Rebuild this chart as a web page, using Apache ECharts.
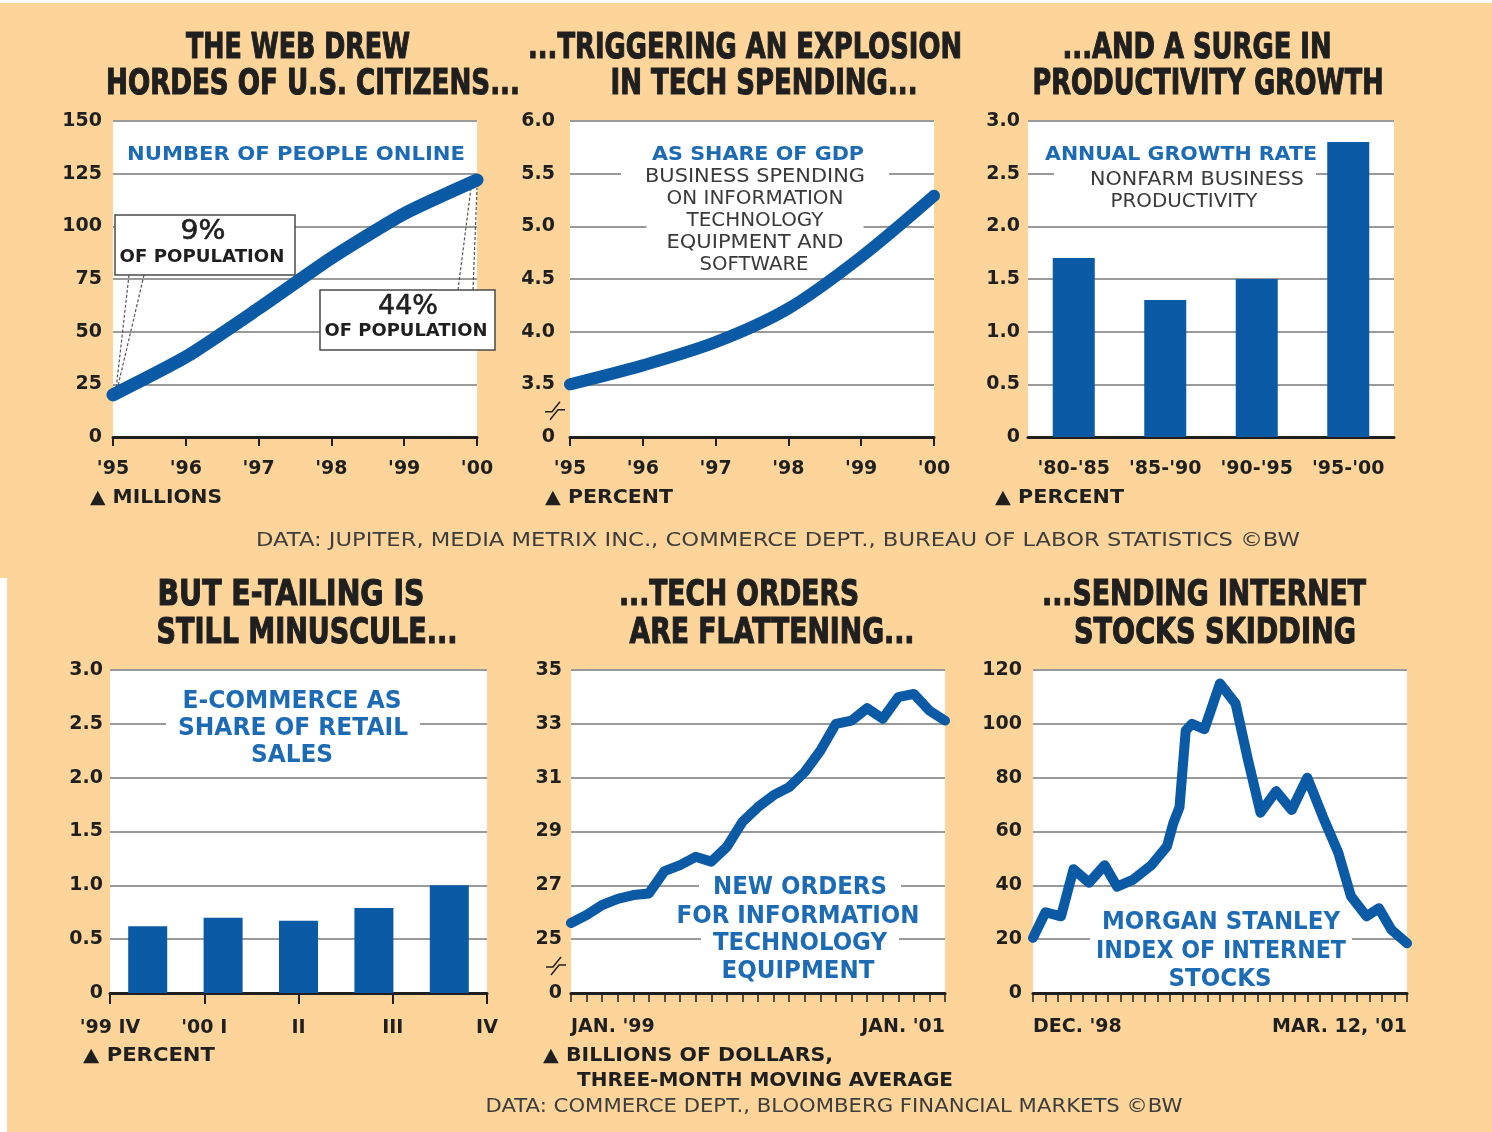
<!DOCTYPE html>
<html>
<head>
<meta charset="utf-8">
<script src="https://cdn.jsdelivr.net/npm/echarts@6/dist/echarts.min.js"></script>
<style>
  html, body { margin: 0; padding: 0; background: #fff; }
  #c { width: 1492px; height: 1132px; }
</style>
</head>
<body>
<div id="c"></div>
<script>
// ---- data ----
const yearCats = ["'95", "'96", "'97", "'98", "'99", "'00"];
const peopleOnline = [20, 38, 61, 85, 106, 122];          // millions
const itShareGdp = [3.5, 3.68, 3.9, 4.22, 4.71, 5.29];    // percent of GDP

const prodPeriods = ["'80-'85", "'85-'90", "'90-'95", "'95-'00"];
const prodGrowth = [1.7, 1.3, 1.5, 2.8];                  // percent a year

const ecomQuarters = ["'99 IV", "'00 I", "II", "III", "IV"];
const ecomShare = [0.62, 0.70, 0.67, 0.79, 1.0];          // percent of retail sales

const orderMonths = ["JAN. '99", "FEB. '99", "MAR. '99", "APR. '99", "MAY '99", "JUNE '99",
  "JULY '99", "AUG. '99", "SEPT. '99", "OCT. '99", "NOV. '99", "DEC. '99",
  "JAN. '00", "FEB. '00", "MAR. '00", "APR. '00", "MAY '00", "JUNE '00",
  "JULY '00", "AUG. '00", "SEPT. '00", "OCT. '00", "NOV. '00", "DEC. '00", "JAN. '01"];
const itOrders = [25.6, 25.9, 26.27, 26.5, 26.64, 26.7, 27.53, 27.75, 28.06, 27.88, 28.43, 29.36,
  29.91, 30.35, 30.65, 31.21, 32.0, 33.0, 33.12, 33.58, 33.19, 33.99, 34.11, 33.49, 33.12];

// weeks since Dec. 1998 and Morgan Stanley internet index level
const stockWeeks = [0, 4, 9, 13, 18, 23, 27, 32, 38, 43, 45, 47, 49, 51, 55, 60, 65, 69, 73,
  78, 83, 88, 93, 98, 102, 107, 111, 115, 120];
const stockIndex = [20.5, 30, 28.5, 46, 41, 47.5, 39.5, 42, 47.5, 54.5, 63, 69, 97.5, 100, 98,
  115, 107.5, 86.5, 67, 75, 68, 80, 65.5, 52, 36, 28.5, 31.5, 23.5, 18.5];
const stockAxisEnds = ["DEC. '98", "MAR. 12, '01"];

// ---- styling ----
const F = "'DejaVu Sans', 'Liberation Sans', sans-serif";
const PEACH = '#FDD59A';
const LINE_BLUE = '#0B5AA6';
const TEXT_BLUE = '#1C6BB4';
const INK = '#1f1f1f';
const GRAY_TEXT = '#3a3a3a';
const GRID_GRAY = '#9a9a9a';

function gridBox(l, t, w, h) {
  return { left: l, top: t, width: w, height: h, show: true, backgroundColor: '#fff',
    borderWidth: 0, containLabel: false, outerBoundsMode: 'none' };
}
function yAx(gi, min, max, interval, fmt, margin, splitColor) {
  return {
    type: 'value', gridIndex: gi, min: min, max: max, interval: interval,
    axisLine: { show: false }, axisTick: { show: false },
    axisLabel: { color: INK, fontFamily: F, fontWeight: 'bold', fontSize: 19, margin: margin, formatter: fmt },
    splitLine: { show: true, lineStyle: { color: splitColor || GRID_GRAY, width: 2 } }
  };
}
const axisLineStyle = { show: true, lineStyle: { color: INK, width: 3 } };
const xLabel = { color: INK, fontFamily: F, fontWeight: 'bold', fontSize: 19 };

const chart = echarts.init(document.getElementById('c'), null, { renderer: 'canvas' });

const option = {
  backgroundColor: PEACH,
  animation: false,
  grid: [
    gridBox(113, 121, 364, 316),
    gridBox(570, 121, 364, 316),
    gridBox(1028, 121, 366, 316),
    gridBox(110, 670, 377, 323),
    gridBox(571, 670, 374, 323),
    gridBox(1033, 670, 374, 323)
  ],
  xAxis: [
    { type: 'category', gridIndex: 0, data: yearCats, boundaryGap: false, axisLine: axisLineStyle, z: 3,
      axisTick: { show: true, interval: 0, length: 9, lineStyle: { color: INK, width: 2 } },
      axisLabel: Object.assign({ margin: 23, interval: 0 }, xLabel), splitLine: { show: false } },
    { type: 'category', gridIndex: 1, data: yearCats, boundaryGap: false, axisLine: axisLineStyle, z: 3,
      axisTick: { show: true, interval: 0, length: 9, lineStyle: { color: INK, width: 2 } },
      axisLabel: Object.assign({ margin: 23, interval: 0 }, xLabel), splitLine: { show: false } },
    { type: 'category', gridIndex: 2, data: prodPeriods, boundaryGap: true, axisLine: axisLineStyle, z: 3,
      axisTick: { show: false },
      axisLabel: Object.assign({ margin: 23, interval: 0 }, xLabel), splitLine: { show: false } },
    // bars sit in the category slots
    { type: 'category', gridIndex: 3, data: ecomQuarters, boundaryGap: true, axisLine: axisLineStyle, z: 3,
      axisTick: { show: false }, axisLabel: { show: false }, splitLine: { show: false } },
    // quarter labels sit on the tick marks
    { type: 'category', gridIndex: 3, data: ecomQuarters, boundaryGap: false, position: 'bottom', z: 3,
      axisLine: { show: false },
      axisTick: { show: true, interval: 0, length: 11, lineStyle: { color: INK, width: 2 } },
      axisLabel: Object.assign({ margin: 26, interval: 0 }, xLabel), splitLine: { show: false } },
    { type: 'category', gridIndex: 4, data: orderMonths, boundaryGap: false, axisLine: axisLineStyle, z: 3,
      axisTick: { show: true, interval: 0, length: 9, lineStyle: { color: INK, width: 1.5 } },
      axisLabel: Object.assign({
        margin: 25,
        interval: function (i) { return i === 0 || i === orderMonths.length - 1; },
        alignMinLabel: 'left', alignMaxLabel: 'right'
      }, xLabel),
      splitLine: { show: false } },
    { type: 'value', gridIndex: 5, min: 0, max: 120, interval: 4, axisLine: axisLineStyle, z: 3,
      axisTick: { show: true, length: 9, lineStyle: { color: INK, width: 1.5 } },
      axisLabel: Object.assign({
        margin: 25, showMinLabel: true, showMaxLabel: true,
        alignMinLabel: 'left', alignMaxLabel: 'right',
        formatter: function (v) { return v === 0 ? stockAxisEnds[0] : (v === 120 ? stockAxisEnds[1] : ''); }
      }, xLabel),
      splitLine: { show: false } }
  ],
  yAxis: [
    yAx(0, 0, 150, 25, function (v) { return String(v); }, 11),
    yAx(1, 3, 6, 0.5, function (v) { return v === 3 ? '0' : v.toFixed(1); }, 15),
    yAx(2, 0, 3, 0.5, function (v) { return v === 0 ? '0' : v.toFixed(1); }, 8),
    yAx(3, 0, 3, 0.5, function (v) { return v === 0 ? '0' : v.toFixed(1); }, 7),
    // odd values only get a gridline and a label; the bottom is a broken scale shown as 0
    yAx(4, 23, 35, 1, function (v) { return v === 23 ? '0' : (v % 2 === 1 ? String(v) : ''); }, 9,
      [GRID_GRAY, 'rgba(0,0,0,0)']),
    yAx(5, 0, 120, 20, function (v) { return String(v); }, 11)
  ],
  series: [
    { type: 'line', xAxisIndex: 0, yAxisIndex: 0, data: peopleOnline, smooth: 0.2, symbol: 'none',
      lineStyle: { color: LINE_BLUE, width: 13, cap: 'round', join: 'round' }, z: 5 },
    { type: 'line', xAxisIndex: 1, yAxisIndex: 1, data: itShareGdp, smooth: 0.3, symbol: 'none',
      lineStyle: { color: LINE_BLUE, width: 12, cap: 'round', join: 'round' }, z: 5 },
    { type: 'bar', xAxisIndex: 2, yAxisIndex: 2, data: prodGrowth, barWidth: 42,
      itemStyle: { color: LINE_BLUE }, z: 5 },
    { type: 'bar', xAxisIndex: 3, yAxisIndex: 3, data: ecomShare, barWidth: 39,
      itemStyle: { color: LINE_BLUE }, z: 5 },
    { type: 'line', xAxisIndex: 5, yAxisIndex: 4, data: itOrders, symbol: 'none',
      lineStyle: { color: LINE_BLUE, width: 10, cap: 'round', join: 'round' }, z: 5 },
    { type: 'line', xAxisIndex: 6, yAxisIndex: 5,
      data: stockWeeks.map(function (w, i) { return [w, stockIndex[i]]; }), symbol: 'none',
      lineStyle: { color: LINE_BLUE, width: 10, cap: 'round', join: 'round' }, z: 5 }
  ]
};
chart.setOption(option);

// ---- text and annotations ----
const measureCtx = document.createElement('canvas').getContext('2d');
function fitText(text, x, y, width, o) {
  o = o || {};
  const size = o.size || 19, weight = o.weight || 'bold', family = o.family || F;
  measureCtx.font = weight + ' ' + size + 'px ' + family;
  const sx = width / measureCtx.measureText(text).width;
  const style = { text: text, fill: o.color || INK, fontSize: size, fontWeight: weight,
    fontFamily: family, align: o.align || 'center', verticalAlign: 'middle', lineHeight: size + 2 };
  if (o.stroke) { style.stroke = o.color || INK; style.lineWidth = o.stroke; }
  if (o.bg) {
    const pad = o.pad || [3, 12, 3, 12];
    style.backgroundColor = '#fff';
    style.padding = [pad[0], pad[1] / sx, pad[2], pad[3] / sx];
  }
  return { type: 'text', x: x, y: y, scaleX: sx, z: o.z || 1, silent: true, style: style };
}
const heading = function (t, cx, y, w) { return fitText(t, cx, y, w, { size: 36, stroke: 1.2, z: 20 }); };
const blue = function (t, cx, y, w, size, pad) { return fitText(t, cx, y, w, { size: size, color: TEXT_BLUE, bg: true, pad: pad }); };
const gray = function (t, cx, y, w, pad) { return fitText(t, cx, y, w, { size: 19, weight: 'normal', color: GRAY_TEXT, bg: true, pad: pad }); };
const unit = function (t, x, y, w) { return fitText(t, x, y, w, { size: 19, align: 'left', z: 20 }); };

const g = [];
// page edge
g.push({ type: 'rect', shape: { x: 0, y: 0, width: 1492, height: 3 }, style: { fill: '#fff' }, z: 30, silent: true });
g.push({ type: 'rect', shape: { x: 0, y: 578, width: 7, height: 554 }, style: { fill: '#fff' }, z: 30, silent: true });

// headings
g.push(heading('THE WEB DREW', 298, 49, 224));
g.push(heading('HORDES OF U.S. CITIZENS...', 313, 85, 414));
g.push(heading('...TRIGGERING AN EXPLOSION', 745, 49, 434));
g.push(heading('IN TECH SPENDING...', 764, 85, 307));
g.push(heading('...AND A SURGE IN', 1197, 49, 269));
g.push(heading('PRODUCTIVITY GROWTH', 1208, 85, 351));
g.push(heading('BUT E-TAILING IS', 291, 596, 267));
g.push(heading('STILL MINUSCULE...', 307, 634, 301));
g.push(heading('...TECH ORDERS', 739, 596, 240));
g.push(heading('ARE FLATTENING...', 772, 634, 285));
g.push(heading('...SENDING INTERNET', 1204, 596, 324));
g.push(heading('STOCKS SKIDDING', 1215, 634, 282));

// in-panel captions
g.push(blue('NUMBER OF PEOPLE ONLINE', 296, 155, 338, 20));
g.push(blue('AS SHARE OF GDP', 758, 155, 212, 20));
g.push(gray('BUSINESS SPENDING', 755, 177, 220, [2, 24, 2, 24]));
g.push(gray('ON INFORMATION', 755, 199, 177, [2, 14, 2, 14]));
g.push(gray('TECHNOLOGY', 755, 221, 137, [2, 40, 6, 40]));
g.push(gray('EQUIPMENT AND', 755, 243, 177, [2, 14, 2, 14]));
g.push(gray('SOFTWARE', 754, 265, 109, [2, 14, 2, 14]));
g.push(blue('ANNUAL GROWTH RATE', 1181, 155, 272, 20, [3, 6, 3, 6]));
g.push(gray('NONFARM BUSINESS', 1185, 180, 214, [2, 12, 2, 36]));
g.push(gray('PRODUCTIVITY', 1184, 202, 147, [2, 12, 2, 12]));
g.push(blue('E-COMMERCE AS', 292, 702, 219, 24, [2, 12, 2, 12]));
g.push(blue('SHARE OF RETAIL', 293, 729, 230, 24, [2, 12, 2, 12]));
g.push(blue('SALES', 292, 756, 82, 24, [2, 12, 2, 12]));
g.push(blue('NEW ORDERS', 800, 888, 174, 24, [2, 14, 2, 14]));
g.push(blue('FOR INFORMATION', 798, 917, 243, 24, [2, 13, 12, 13]));
g.push(blue('TECHNOLOGY', 800, 944, 174, 24, [2, 12, 2, 12]));
g.push(blue('EQUIPMENT', 798, 972, 153, 24, [2, 12, 0, 12]));
g.push(blue('MORGAN STANLEY', 1221, 923, 238, 24, [2, 12, 2, 12]));
g.push(blue('INDEX OF INTERNET', 1221, 952, 250, 24, [2, 6, 2, 6]));
g.push(blue('STOCKS', 1220, 980, 103, 24, [2, 12, 0, 12]));

// units
g.push(unit('\u25B2 MILLIONS', 90, 498, 132));
g.push(unit('\u25B2 PERCENT', 545, 498, 128));
g.push(unit('\u25B2 PERCENT', 995, 498, 129));
g.push(unit('\u25B2 PERCENT', 83, 1056, 132));
g.push(unit('\u25B2 BILLIONS OF DOLLARS,', 543, 1056, 290));
g.push(unit('THREE-MONTH MOVING AVERAGE', 577, 1081, 376));

// sources
g.push(fitText('DATA: JUPITER, MEDIA METRIX INC., COMMERCE DEPT., BUREAU OF LABOR STATISTICS \u00A9BW',
  778, 541, 1044, { size: 19, weight: 'normal', color: '#3d3d3d', z: 20 }));
g.push(fitText('DATA: COMMERCE DEPT., BLOOMBERG FINANCIAL MARKETS \u00A9BW',
  834, 1107, 697, { size: 19, weight: 'normal', color: '#3d3d3d', z: 20 }));

// callouts on the people-online line
const p0 = chart.convertToPixel({ gridIndex: 0 }, [0, peopleOnline[0]]);
const p5 = chart.convertToPixel({ gridIndex: 0 }, [peopleOnline.length - 1, peopleOnline[peopleOnline.length - 1]]);
const leader = { stroke: '#555', lineWidth: 1.2, lineDash: [3, 2], fill: null };
g.push({ type: 'polyline', shape: { points: [[129, 275], [p0[0] + 3, p0[1] - 5]] }, style: leader, z: 1, silent: true });
g.push({ type: 'polyline', shape: { points: [[144, 275], [p0[0] + 5, p0[1] - 9]] }, style: leader, z: 1, silent: true });
g.push({ type: 'polyline', shape: { points: [[458, 290], [p5[0] - 6, p5[1] + 8]] }, style: leader, z: 1, silent: true });
g.push({ type: 'polyline', shape: { points: [[473, 290], [p5[0], p5[1] + 8]] }, style: leader, z: 1, silent: true });
g.push({ type: 'rect', shape: { x: 115, y: 215, width: 180, height: 60 },
  style: { fill: '#fff', stroke: '#4a4a4a', lineWidth: 1.5 }, z: 1, silent: true });
g.push({ type: 'rect', shape: { x: 320, y: 290, width: 175, height: 60 },
  style: { fill: '#fff', stroke: '#4a4a4a', lineWidth: 1.5 }, z: 1, silent: true });
g.push(fitText('9%', 203, 232, 45, { size: 26, weight: 'normal', z: 2, stroke: 0.6 }));
g.push(fitText('OF POPULATION', 202, 257, 165, { size: 18, z: 2 }));
g.push(fitText('44%', 408, 307, 60, { size: 26, weight: 'normal', z: 2, stroke: 0.6 }));
g.push(fitText('OF POPULATION', 406, 331, 163, { size: 18, z: 2 }));

// scale-break marks next to the truncated value axes
function breakMark(cx, cy) {
  const s = { stroke: INK, lineWidth: 1.5, fill: null };
  return [
    { type: 'polyline', shape: { points: [[cx - 10, cy + 1], [cx - 3, cy + 1], [cx + 5, cy - 9]] }, style: s, z: 20, silent: true },
    { type: 'polyline', shape: { points: [[cx - 5, cy + 9], [cx + 3, cy - 1], [cx + 10, cy - 1]] }, style: s, z: 20, silent: true }
  ];
}
const b1 = chart.convertToPixel({ gridIndex: 1 }, [0, 3.25]);
const b2 = chart.convertToPixel({ gridIndex: 4 }, [0, 24]);
breakMark(b1[0] - 15, b1[1]).forEach(function (e) { g.push(e); });
breakMark(b2[0] - 15, b2[1]).forEach(function (e) { g.push(e); });

chart.setOption({ graphic: g });
</script>
</body>
</html>
